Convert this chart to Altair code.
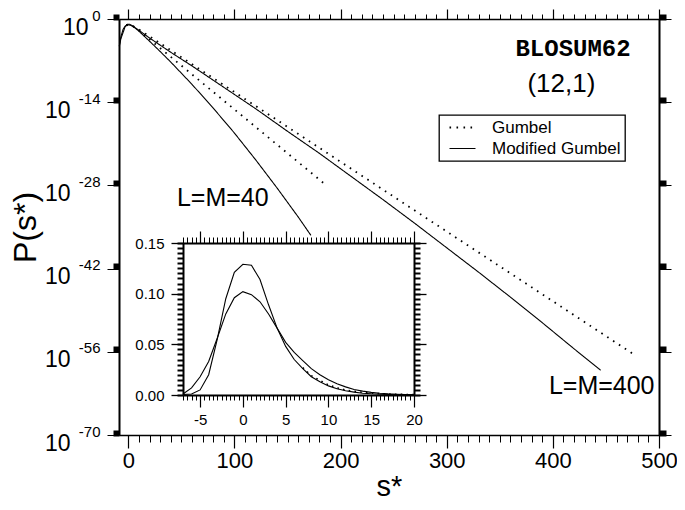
import altair as alt
import pandas as pd

# ---------------- data ----------------
# main panel: log10 P(s*) versus s*
s_400_mod = [-8.5, -7, -5, -3, -1, 0, 2, 5, 10, 20, 40, 60, 80, 100, 120, 150, 180, 210, 240, 270, 300, 330, 360, 390, 420, 445]
log_400_mod = [-4.5, -3.0, -1.75, -1.2, -0.99, -0.98, -1.06, -1.3, -1.9, -3.2, -5.6, -7.9, -10.3, -12.7, -15.1, -18.9, -22.6, -26.5, -30.4, -34.4, -38.5, -42.6, -46.8, -51.1, -55.5, -59.1]
s_40_mod = [-8.5, -7, -5, -3, -1, 0, 1, 3, 5, 10, 20, 30, 40, 60, 80, 100, 120, 140, 160, 172]
log_40_mod = [-4.6, -3.3, -2.3, -1.26, -0.92, -0.89, -0.89, -1.05, -1.32, -2.05, -3.74, -5.47, -7.25, -11.0, -15.0, -19.2, -23.7, -28.4, -33.3, -36.4]
s_400_gum = [-2, 0, 3, 6, 10, 20, 50, 100, 150, 200, 250, 300, 350, 400, 475]
log_400_gum = [-1.08, -1.00, -1.11, -1.36, -1.77, -2.92, -6.43, -12.30, -18.16, -24.03, -29.89, -35.76, -41.62, -47.49, -56.29]
s_40_gum = [-2, 0, 2, 4, 7, 10, 20, 50, 100, 150, 185]
log_40_gum = [-1.03, -0.90, -0.98, -1.17, -1.54, -1.96, -3.42, -7.85, -15.22, -22.6, -27.76]

# inset: P(s*) on a linear scale
inset_s = list(range(-7, 21))
inset_40 = [0.0005, 0.001, 0.005, 0.02, 0.055, 0.095, 0.121, 0.129, 0.128, 0.114, 0.089, 0.066, 0.048, 0.035,
            0.026, 0.018, 0.013, 0.009, 0.0062, 0.0042, 0.0028, 0.0018, 0.0012, 0.0008, 0.0005, 0.0003, 0.0002, 0.0001]
inset_400 = [0.001, 0.007, 0.018, 0.033, 0.056, 0.080, 0.096, 0.102, 0.099, 0.092, 0.080, 0.066, 0.052, 0.042,
             0.034, 0.026, 0.020, 0.015, 0.011, 0.008, 0.0055, 0.0038, 0.0026, 0.0018, 0.0012, 0.0008, 0.0005, 0.0003]
inset_gum_s = list(range(7, 21))
inset_gum_40 = [0.027, 0.019, 0.0145, 0.0100, 0.0070, 0.0050, 0.0036, 0.0026, 0.0019, 0.0014, 0.0010, 0.0007, 0.0005, 0.0004]

series_types = ["Gumbel", "Modified Gumbel"]

# annotation texts (data coordinates: s*, log10 P)
labels_text = ["L=M=40", "L=M=400"]
labels_s = [89, 446]
labels_log = [-30.1, -61.8]
matrix_text = ["BLOSUM62"]
matrix_s = [419]
matrix_log = [-5.05]
gap_text = ["(12,1)"]
gap_s = [408]
gap_log = [-10.9]

main_x_major = [0, 100, 200, 300, 400, 500]
main_x_minor = list(range(0, 501, 10))
main_y_ticks = [1e0, 1e-14, 1e-28, 1e-42, 1e-56, 1e-70]
inset_x_major = [-5, 0, 5, 10, 15, 20]
inset_x_minor = [-7 + 0.5 * i for i in range(55)]
inset_y_major = [0.0, 0.05, 0.10, 0.15]
inset_y_minor = [round(0.005 * i, 4) for i in range(31)]

# ---------------- tables ----------------
rows = []
for name, typ, ss, ll in [("400 mod", "Modified Gumbel", s_400_mod, log_400_mod),
                          ("40 mod", "Modified Gumbel", s_40_mod, log_40_mod),
                          ("400 gum", "Gumbel", s_400_gum, log_400_gum),
                          ("40 gum", "Gumbel", s_40_gum, log_40_gum)]:
    for s, l in zip(ss, ll):
        rows.append({"s": s, "P": 10.0 ** l, "curve": name, "type": typ})
main_df = pd.DataFrame(rows)

irows = []
for name, vals in [("40", inset_40), ("400", inset_400)]:
    for s, p in zip(inset_s, vals):
        irows.append({"s": s, "P": p, "curve": name})
inset_df = pd.DataFrame(irows)
igum_df = pd.DataFrame({"s": inset_gum_s, "P": inset_gum_40})


def text_df(t, s, l):
    return pd.DataFrame({"text": t, "s": s, "P": [10.0 ** v for v in l]})


FONT = "Liberation Sans"
W, H = 540, 416

xs = alt.Scale(domain=[-8.8, 500], nice=False, zero=False)
ys = alt.Scale(type="log", domain=[1e-70, 1], nice=False)

# inset placed inside the plot area through explicit pixel ranges
IX0, IX1, IY0, IY1 = 64, 295, 376, 224
xi = alt.Scale(domain=[-7, 20], range=[IX0, IX1], nice=False, zero=False)
yi = alt.Scale(domain=[0, 0.15], range=[IY0, IY1], nice=False, zero=False)


def axis(orient, **kw):
    d = dict(orient=orient, grid=False, labels=False, ticks=True, domain=False, title=None,
             tickColor="black", domainColor="black", labelColor="black", labelFont=FONT)
    d.update(kw)
    return alt.Axis(**d)


def ghost(df, xsc, ysc, xaxis, yaxis):
    return alt.Chart(df).mark_point(opacity=0).encode(
        x=alt.X("s:Q", scale=xsc, axis=xaxis),
        y=alt.Y("P:Q", scale=ysc, axis=yaxis),
    )


legend = alt.Legend(orient="none", legendX=320, legendY=96, title=None, strokeColor="black",
                    fillColor="white", padding=4, labelFont=FONT, labelFontSize=17, labelColor="black",
                    symbolType="M-0.4,0L4.8,0", symbolSize=100, symbolStrokeColor="black",
                    symbolStrokeWidth=1.3, symbolFillColor="transparent", labelOffset=32, rowPadding=3)

lines = alt.Chart(main_df).mark_line(color="black", strokeCap="butt").encode(
    x=alt.X("s:Q", scale=xs,
            axis=axis("bottom", values=main_x_major, tickSize=13, tickWidth=1.2, labels=True,
                      labelFontSize=22, labelPadding=2, labelFlush=False, domain=True, domainWidth=1.5,
                      title="s*", titleFont=FONT, titleFontSize=29, titleFontWeight="normal",
                      titleColor="black", titlePadding=1)),
    y=alt.Y("P:Q", scale=ys,
            axis=axis("left", values=main_y_ticks, tickSize=12, tickWidth=1, domain=True, domainWidth=2)),
    detail="curve:N",
    strokeDash=alt.StrokeDash("type:N", scale=alt.Scale(domain=series_types, range=[[1.6, 5.4], [1, 0]]),
                              legend=legend),
    strokeWidth=alt.StrokeWidth("type:N", scale=alt.Scale(domain=series_types, range=[1.8, 1.1]), legend=None),
)

g2 = ghost(main_df, xs, ys,
           axis("bottom", values=main_x_minor, tickSize=7, tickWidth=1),
           axis("left", values=main_y_ticks, tickSize=6, tickWidth=6, tickOffset=-2.5))
g3 = ghost(main_df, xs, ys,
           axis("top", values=main_x_major, tickSize=10, tickWidth=1.2, domain=True, domainWidth=1.5),
           axis("right", values=main_y_ticks, tickSize=12, tickWidth=1, domain=True, domainWidth=2))
g4 = ghost(main_df, xs, ys,
           axis("top", values=main_x_minor, tickSize=5, tickWidth=1),
           axis("right", values=main_y_ticks, tickSize=7, tickWidth=6, tickOffset=-2.5))
g5 = ghost(main_df, xs, ys, None,
           axis("left", values=main_y_ticks, ticks=False, tickSize=0, labels=True, labelFontSize=23,
                labelPadding=31, labelOffset=8, labelOverlap=False,
                labelExpr="datum.value == 1 ? '10' : ''"))
g6 = ghost(main_df, xs, ys, None,
           axis("left", values=main_y_ticks, ticks=False, tickSize=0, labels=True, labelFontSize=23,
                labelPadding=49, labelOffset=8, labelOverlap=False,
                labelExpr="datum.value == 1 ? '' : '10'",
                title="P(s*)", titleFont=FONT, titleFontSize=32, titleFontWeight="normal",
                titleColor="black", titlePadding=2))
g7 = ghost(main_df, xs, ys, None,
           axis("left", values=main_y_ticks, ticks=False, tickSize=0, labels=True, labelFontSize=15,
                labelPadding=19, labelOffset=-4, labelOverlap=False,
                labelExpr="'' + round(log(datum.value) / LN10)"))

t1 = alt.Chart(text_df(labels_text, labels_s, labels_log)).mark_text(
    font=FONT, fontSize=25, color="black").encode(
    x=alt.X("s:Q", scale=xs, axis=None), y=alt.Y("P:Q", scale=ys, axis=None), text="text:N")
t2 = alt.Chart(text_df(matrix_text, matrix_s, matrix_log)).mark_text(
    font="Liberation Mono", fontSize=24, fontWeight="bold", color="black").encode(
    x=alt.X("s:Q", scale=xs, axis=None), y=alt.Y("P:Q", scale=ys, axis=None), text="text:N")
t3 = alt.Chart(text_df(gap_text, gap_s, gap_log)).mark_text(
    font=FONT, fontSize=26, color="black").encode(
    x=alt.X("s:Q", scale=xs, axis=None), y=alt.Y("P:Q", scale=ys, axis=None), text="text:N")

main = alt.layer(lines, g2, g3, g4, g5, g6, g7, t1, t2, t3).resolve_axis(x="independent", y="independent")

# ---------------- inset ----------------
OB = IY0 - H
OT = -IY1
OL = -IX0
OR = -(W - IX1)

ilines = alt.Chart(inset_df).mark_line(color="black", strokeWidth=1.1).encode(
    x=alt.X("s:Q", scale=xi,
            axis=axis("bottom", values=inset_x_major, tickSize=12, tickWidth=1.2, labels=True,
                      labelFontSize=15, labelPadding=5, labelFlush=False, labelExpr="'' + datum.value",
                      domain=True, domainWidth=2, offset=OB)),
    y=alt.Y("P:Q", scale=yi,
            axis=axis("left", values=inset_y_major, tickSize=12, tickWidth=1.3, labels=True,
                      labelFontSize=15, labelPadding=7, format=".2f", labelOverlap=False,
                      domain=True, domainWidth=2, offset=OL)),
    detail="curve:N",
)
igum = alt.Chart(igum_df).mark_line(color="black", strokeWidth=1.6, strokeDash=[1.6, 4.2]).encode(
    x=alt.X("s:Q", scale=xi, axis=axis("bottom", values=inset_x_minor, tickSize=5, tickWidth=1, offset=OB)),
    y=alt.Y("P:Q", scale=yi, axis=axis("left", values=inset_y_minor, tickSize=6, tickWidth=2, offset=OL)),
)
ig3 = ghost(inset_df, xi, yi,
            axis("top", values=inset_x_major, tickSize=12, tickWidth=1.2, domain=True, domainWidth=2, offset=OT),
            axis("right", values=inset_y_major, tickSize=12, tickWidth=1.3, domain=True, domainWidth=2, offset=OR))
ig4 = ghost(inset_df, xi, yi,
            axis("top", values=inset_x_minor, tickSize=6, tickWidth=1, offset=OT),
            axis("right", values=inset_y_minor, tickSize=6, tickWidth=2, offset=OR))

inset = alt.layer(ilines, igum, ig3, ig4).resolve_axis(x="independent", y="independent")

chart = alt.layer(main, inset).resolve_scale(x="independent", y="independent").properties(
    width=W, height=H,
    autosize=alt.AutoSizeParams(type="none"),
    padding={"left": 111, "top": 11, "right": 18, "bottom": 67},
).configure_view(stroke=None).configure_axis(grid=False).configure_legend(strokeWidth=1.3)

chart.save("out.html", embed_options={"renderer": "svg", "actions": False})
